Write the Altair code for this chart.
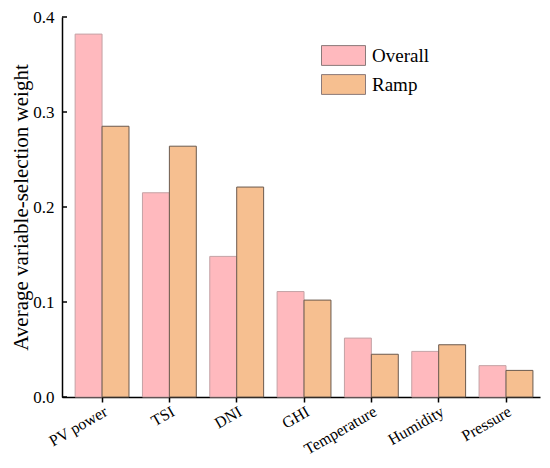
import altair as alt
import pandas as pd

categories = ["PV power", "TSI", "DNI", "GHI", "Temperature", "Humidity", "Pressure"]
overall = [0.382, 0.215, 0.148, 0.111, 0.062, 0.048, 0.033]
ramp = [0.285, 0.264, 0.221, 0.102, 0.045, 0.055, 0.028]
series_names = ["Overall", "Ramp"]
y_ticks = [0.0, 0.1, 0.2, 0.3, 0.4]

rows = []
for c, o, r in zip(categories, overall, ramp):
    rows.append({"var": c, "series": "Overall", "value": o})
    rows.append({"var": c, "series": "Ramp", "value": r})
df = pd.DataFrame(rows)
ticks_df = pd.DataFrame({"t": y_ticks})

FONT = "Liberation Serif"

x_enc = alt.X("var:N", sort=categories, title=None,
              scale=alt.Scale(paddingInner=0.2, paddingOuter=0.15, align=0.65),
              axis=alt.Axis(labelAngle=-30, labelFontSize=16, labelFont=FONT,
                            labelColor="black", domainColor="black", domainWidth=1.5,
                            tickColor="black", tickWidth=1.5, tickSize=5, labelPadding=1))
y_scale = alt.Scale(domain=[0, 0.4], nice=False)

bars = alt.Chart(df).mark_bar(strokeWidth=1).encode(
    x=x_enc,
    xOffset=alt.XOffset("series:N", sort=series_names, scale=alt.Scale(paddingInner=0, paddingOuter=0)),
    y=alt.Y("value:Q", scale=y_scale, title="Average variable-selection weight",
            axis=alt.Axis(values=y_ticks, format=".1f", ticks=False, grid=False,
                          labelFontSize=17, labelFont=FONT, labelColor="black", labelPadding=8,
                          domainColor="black", domainWidth=1.5,
                          titleFont=FONT, titleFontSize=21, titleFontWeight="normal",
                          titleColor="black", titlePadding=1)),
    color=alt.Color("series:N", sort=series_names,
                    scale=alt.Scale(domain=series_names, range=["#FFB9BE", "#F6BF90"]),
                    legend=alt.Legend(title=None, orient="none", legendX=270, legendY=27,
                                      symbolType="M-2,-0.9L2,-0.9L2,0.9L-2,0.9Z",
                                      symbolSize=484, symbolStrokeColor="#8a7a7a",
                                      symbolStrokeWidth=1, symbolOpacity=1,
                                      labelFont=FONT, labelFontSize=19, labelColor="black",
                                      labelOffset=17, rowPadding=4, padding=0)),
    stroke=alt.condition(alt.datum.series == "Overall", alt.value("#c4a2a5"), alt.value("#6b5a4e")),
)

yticks = alt.Chart(ticks_df).mark_rule(color="black", strokeWidth=1.5).encode(
    y=alt.Y("t:Q", scale=y_scale),
    x=alt.value(0),
    x2=alt.value(5),
)

chart = alt.layer(bars, yticks).properties(
    width=478, height=380,
    autosize=alt.AutoSizeParams(type="none"),
    padding={"left": 54, "top": 9, "right": 2, "bottom": 63},
).configure_view(stroke=None).configure_axis(grid=False)

chart.save("out.html", embed_options={"renderer": "svg", "actions": False})
